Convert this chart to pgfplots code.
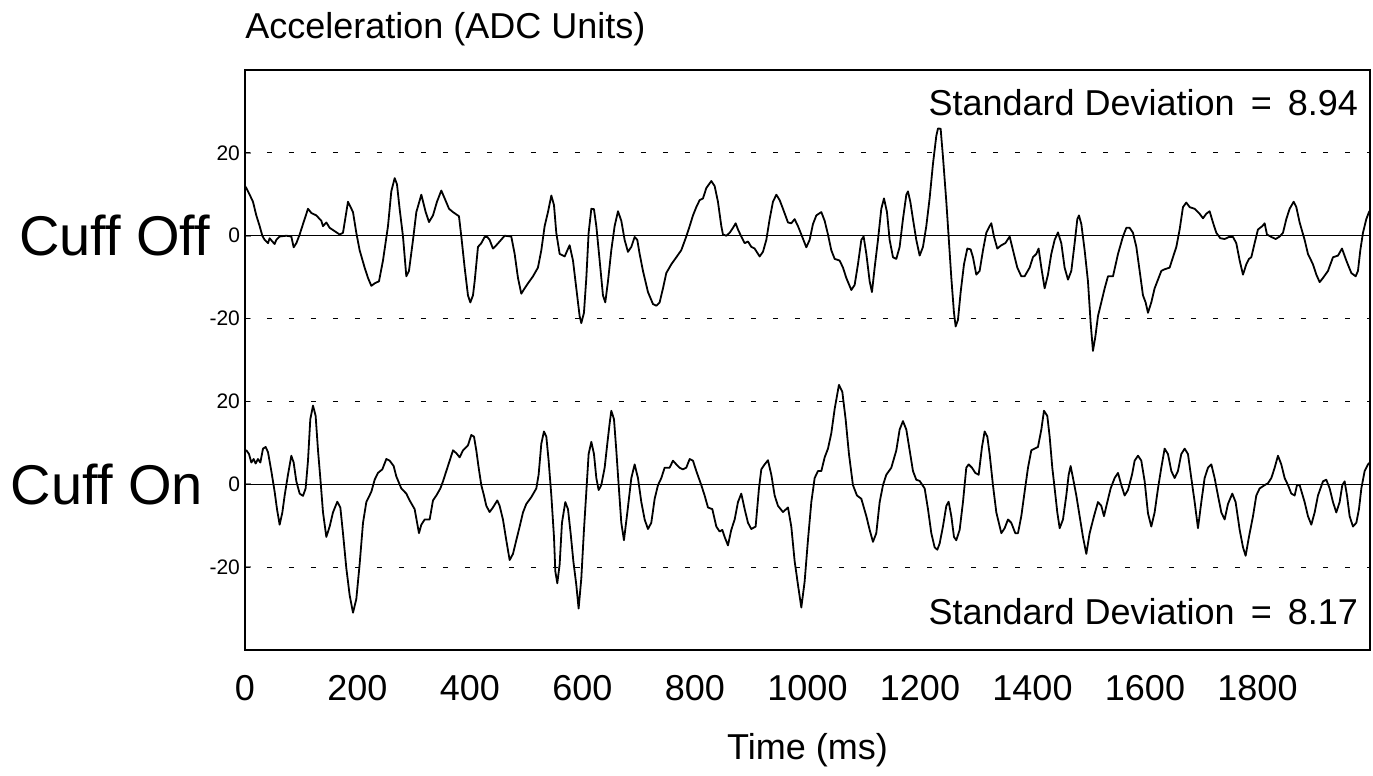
\documentclass[border=0pt]{standalone}
\usepackage{fontspec}
\setmainfont{Liberation Sans}
\usepackage{pgfplots}
\usepackage{pgfplotstable}
\pgfplotsset{compat=1.18}

\pgfplotstableread{
t v
0 12
2.4 11.5
8.3 9.9
14.2 8.2
20.1 4.9
26.1 2.3
30.8 0
34.9 -1.0
40.9 -1.8
43.8 -0.6
48.6 -1.4
52.7 -2.0
55.7 -1.0
61.6 -0.2
73.5 0
82.4 -0.2
86.5 -2.8
91.3 -1.8
97.2 0.3
103.1 2.8
112.0 6.5
117.9 5.5
126.8 4.9
135.7 3.6
138.7 2.3
144.6 3.2
150.5 1.9
159.4 1.1
168.3 0.3
174.2 0.7
183.1 8.2
192.0 5.7
197.9 0.7
203.8 -3.5
212.7 -7.7
218.7 -10.2
224.6 -12.1
230.5 -11.5
238.2 -11.0
245.3 -6.0
254.2 2.3
260.1 10.7
266.1 13.9
270.2 12.4
274.9 6.5
280.9 -0.2
286.8 -9.8
291.5 -8.5
298.7 -1.0
304.6 5.7
313.5 9.9
321.2 5.7
327.1 3.3
334.2 4.9
341.3 8.2
349.0 10.9
355.0 9.0
362.7 6.5
369.8 5.7
380.4 4.7
384.6 -0.2
390.5 -7.7
396.4 -14.4
400.6 -16.1
405.3 -14.4
408.3 -11.0
414.2 -2.7
420.1 -1.8
426.0 -0.3
430.8 -0.3
434.9 -1.0
440.8 -3.1
446.8 -2.3
452.7 -1.4
461.6 0
473.4 -0.2
479.4 -4.4
485.3 -10.2
491.2 -14.0
497.1 -12.7
503.1 -11.5
512.0 -9.8
520.8 -7.7
526.8 -3.5
532.7 2.3
538.6 5.7
544.6 9.7
549.3 7.4
553.4 0.7
559.4 -4.4
568.3 -5.0
577.1 -2.3
583.1 -6.0
589.0 -12.7
594.9 -19.4
597.9 -21.1
602.6 -18.6
606.8 -10.2
610.9 0.7
615.7 6.5
620.4 6.4
624.6 2.3
630.5 -6.0
636.4 -14.4
640.5 -16.1
645.3 -11.0
651.2 -3.5
657.1 2.3
663.1 5.9
669.0 3.6
674.9 -1.0
680.8 -3.9
686.8 -2.7
692.7 -0.3
697.4 -1.0
701.6 -4.4
707.5 -8.5
716.4 -13.6
725.3 -16.5
731.2 -16.9
737.1 -16.1
743.1 -12.7
749.0 -9.0
757.9 -6.9
766.8 -5.2
775.6 -3.5
784.5 -0.2
790.5 2.3
796.4 4.9
802.3 6.9
808.3 8.6
814.2 9.0
820.1 11.5
829.0 13.2
834.9 12.0
840.8 8.2
846.8 2.3
849.7 0.3
855.7 0
861.6 0.7
867.5 1.9
872.3 3.0
876.4 1.5
882.3 -0.2
888.3 -1.8
894.2 -1.4
900.1 -2.7
906.0 -3.1
914.9 -5.0
920.8 -3.9
926.8 -1.0
932.7 4.0
938.6 8.2
944.6 9.9
950.5 8.6
956.4 6.5
965.3 3.2
971.2 3.0
977.1 4.0
983.1 2.3
989.0 0.3
997.9 -2.8
1003.8 -1.0
1009.7 2.8
1015.7 4.9
1024.6 5.7
1030.5 3.6
1036.4 0.3
1042.3 -3.5
1048.3 -5.6
1057.1 -6.0
1063.1 -7.7
1069.0 -10.2
1077.9 -13.1
1083.8 -11.9
1089.7 -6.9
1095.7 -1.0
1099.8 -0.2
1104.6 -4.4
1110.5 -11.0
1114.6 -13.6
1119.4 -7.7
1125.3 -1.0
1131.2 6.5
1136.0 9.0
1141.3 5.7
1146.0 -1.0
1152.0 -5.2
1157.9 -5.6
1163.8 -2.7
1169.7 4.0
1175.7 9.9
1178.6 10.7
1182.8 8.2
1187.5 4.0
1193.4 -1.0
1199.4 -4.8
1205.3 -2.7
1211.2 2.3
1217.1 9.0
1223.1 17.4
1229.0 24.1
1232.0 25.9
1236.7 25.8
1240.8 19.1
1246.8 8.2
1250.9 -0.2
1255.7 -10.2
1260.4 -18.6
1263.4 -21.9
1267.5 -20.3
1272.3 -13.6
1278.2 -6.9
1284.1 -3.1
1290.0 -3.3
1294.2 -5.2
1300.1 -9.4
1306.0 -8.5
1312.0 -3.5
1317.9 0.7
1323.8 2.3
1326.8 3.0
1331.5 -0.2
1337.4 -3.1
1344.6 -2.3
1351.7 -1.8
1359.4 -0.2
1365.3 -3.5
1373.0 -7.7
1380.1 -9.8
1386.0 -9.8
1394.9 -7.7
1400.8 -5.2
1406.8 -4.4
1410.9 -3.1
1415.7 -7.7
1421.6 -12.7
1427.5 -9.4
1433.4 -4.4
1439.4 -1.0
1445.3 0.8
1451.2 -1.8
1457.1 -7.7
1463.1 -10.6
1469.0 -8.5
1474.9 -1.8
1479.7 4.0
1482.6 4.9
1486.8 2.8
1492.7 -3.5
1498.6 -11.0
1503.4 -21.1
1507.5 -27.8
1511.7 -24.4
1516.4 -19.4
1522.3 -16.1
1528.3 -12.7
1534.2 -9.8
1543.1 -9.8
1552.0 -4.4
1560.8 -0.2
1566.8 1.9
1572.7 1.9
1578.6 0.7
1584.6 -2.7
1590.5 -8.5
1596.4 -14.4
1601.1 -16.1
1605.3 -18.6
1611.2 -16.1
1617.1 -12.7
1623.1 -10.6
1629.0 -8.5
1634.9 -8.1
1643.8 -7.7
1649.7 -5.2
1655.7 -2.7
1661.6 1.5
1667.5 6.9
1673.4 8.0
1679.4 6.9
1688.3 6.5
1697.1 5.3
1703.1 4.2
1709.0 5.3
1714.9 5.9
1720.8 3.2
1726.8 0.7
1733.9 -0.6
1741.6 -0.8
1749.3 -0.3
1756.4 -0.3
1762.3 -1.8
1768.3 -6.0
1774.2 -9.4
1780.1 -6.9
1784.8 -5.6
1789.0 -5.2
1794.9 -1.8
1800.8 1.5
1808.5 2.3
1812.7 3.0
1816.8 0.3
1824.6 -0.3
1832.3 -0.8
1839.4 -0.2
1845.3 0.7
1851.2 4.0
1857.1 6.5
1864.3 8.2
1869.0 6.9
1874.9 3.2
1883.8 -1.0
1889.7 -4.4
1898.6 -6.9
1904.6 -9.4
1910.5 -11.2
1916.4 -10.2
1925.3 -8.5
1934.2 -5.2
1943.1 -4.8
1950.2 -3.1
1957.9 -6.0
1966.8 -9.0
1974.5 -9.8
1978.6 -8.5
1982.8 -3.5
1987.5 0.7
1993.4 4.0
1998.2 5.7
2000 6.1
}\cuffoff

\pgfplotstableread{
t v
0 8
2.4 8.2
7.1 7.3
11.3 5.25
15.4 6.1
18.9 5.0
23.1 6.1
27.3 5.25
32.0 8.6
36.7 9.0
40.9 7.75
46.8 3.2
52.7 -1.8
56.9 -6.0
61.6 -9.75
66.4 -6.8
70.5 -2.7
76.4 2.3
82.4 6.9
86.5 5.25
91.3 0.7
97.2 -2.25
103.1 -2.8
107.8 -1.0
112.0 5.7
116.1 15.7
120.9 19.0
125.6 16.5
129.8 8.2
133.9 1.5
138.7 -6.8
144.6 -12.7
150.5 -10.2
156.4 -6.8
164.1 -4.2
169.5 -5.6
174.2 -11.8
180.1 -20.2
186.1 -26.8
192.0 -31.0
197.9 -27.7
203.8 -19.3
209.8 -9.3
215.7 -4.3
224.6 -1.8
230.5 1.1
236.4 2.75
244.1 3.6
251.3 6.1
257.2 5.7
264.3 4.4
269.0 1.9
277.9 -1.0
286.8 -2.25
292.7 -3.9
301.6 -6.0
309.3 -11.8
313.5 -9.75
319.4 -8.5
328.3 -8.5
334.2 -3.9
340.2 -2.7
347.3 -1.0
352.0 0.7
357.9 3.2
363.9 5.7
369.8 8.2
375.7 7.5
381.6 6.5
387.6 8.2
396.4 9.4
402.3 11.9
407.1 11.5
411.2 8.2
415.4 4.0
420.1 -0.2
424.8 -2.7
429.0 -5.2
434.9 -6.7
440.8 -5.6
448.5 -3.9
452.7 -5.2
458.6 -8.5
464.5 -13.5
470.5 -18.3
476.4 -16.8
482.3 -13.5
488.3 -10.2
494.2 -6.8
500.1 -4.75
509.0 -3.1
517.9 -1.0
522.0 2.3
526.8 9.8
531.5 12.75
535.7 11.5
539.8 5.7
544.6 -2.7
549.3 -12.7
551.7 -21.0
555.2 -23.9
559.4 -19.3
563.5 -9.3
569.4 -4.3
574.2 -6.0
578.9 -11.8
583.7 -18.5
589.0 -24.3
593.1 -30.0
597.9 -22.7
602.6 -11.0
606.8 -1.8
610.9 7.3
615.7 10.25
620.4 7.3
624.6 1.5
628.7 -1.4
633.4 -0.2
639.4 4.0
644.1 9.8
648.3 14.75
651.2 17.75
656.0 15.7
660.1 8.2
664.3 -0.2
669.0 -9.3
673.7 -13.5
679.7 -6.8
686.8 1.5
692.7 4.8
698.6 1.5
704.6 -4.3
710.5 -8.5
716.4 -10.8
722.3 -9.3
728.3 -3.5
734.2 -0.2
740.1 1.5
746.0 4.0
754.9 4.0
760.8 5.7
766.8 4.8
772.7 4.0
778.6 3.6
784.5 4.0
790.5 6.1
796.4 5.7
802.3 3.2
811.2 -0.2
817.1 -2.7
823.1 -5.6
830.8 -6.0
837.9 -10.2
843.8 -11.4
848.5 -11.0
852.7 -12.7
858.6 -14.75
864.5 -11.0
870.5 -8.5
876.4 -4.3
882.3 -2.25
888.3 -6.0
894.2 -9.3
900.1 -10.8
907.8 -10.2
913.7 -1.0
917.9 3.6
923.8 4.8
929.7 5.8
935.7 2.3
941.6 -2.7
947.5 -5.2
956.4 -6.7
965.3 -5.6
971.2 -10.2
977.1 -18.5
983.1 -24.3
989.0 -29.75
994.9 -23.5
1000.8 -13.5
1006.8 -4.3
1012.7 1.5
1018.6 3.2
1024.6 3.2
1030.5 6.5
1036.4 8.6
1042.3 12.3
1048.3 18.2
1055.9 24.0
1061.9 22.3
1067.8 15.7
1073.7 7.3
1080.8 -0.2
1087.9 -2.7
1095.7 -3.5
1104.6 -7.7
1110.5 -11.0
1116.4 -13.9
1122.3 -11.8
1128.3 -4.3
1134.2 -0.2
1140.1 2.3
1149.0 4.0
1157.9 8.2
1163.8 13.2
1169.7 15.25
1175.7 13.2
1181.6 8.2
1187.5 3.2
1193.4 1.1
1199.4 0.8
1208.3 -1.0
1214.2 -6.0
1220.1 -11.8
1226.0 -15.2
1230.8 -15.8
1234.9 -14.3
1240.8 -10.2
1246.8 -5.2
1250.9 -4.2
1255.7 -7.7
1260.4 -12.7
1264.5 -13.5
1270.5 -11.0
1276.4 -4.3
1282.3 4.0
1286.5 4.8
1292.4 4.0
1298.3 2.75
1304.3 2.3
1310.2 9.0
1314.9 12.75
1319.7 11.5
1323.8 7.3
1329.7 -0.2
1335.7 -6.8
1344.6 -11.8
1350.5 -10.6
1356.4 -8.5
1362.3 -9.3
1369.4 -11.8
1374.2 -11.8
1380.1 -7.7
1386.0 -1.8
1392.0 4.0
1397.9 8.2
1403.8 8.6
1409.7 9.0
1415.7 13.2
1420.4 17.75
1426.3 16.5
1430.5 11.5
1435.2 4.0
1439.4 -1.0
1444.1 -6.8
1448.3 -10.6
1454.2 -8.5
1460.1 -2.7
1464.3 2.3
1467.8 4.4
1472.0 1.5
1477.9 -2.7
1483.8 -7.7
1489.7 -12.7
1495.7 -16.8
1501.6 -11.8
1509.3 -7.7
1516.4 -4.3
1522.3 -5.2
1527.1 -7.7
1533.0 -4.3
1538.9 -1.0
1546.0 1.5
1552.0 2.75
1557.9 -0.2
1563.8 -2.7
1569.7 -1.4
1576.9 2.3
1581.6 5.7
1587.5 6.9
1593.4 5.7
1599.4 0.7
1605.3 -7.0
1611.2 -10.2
1617.1 -6.8
1623.1 -1.0
1629.0 4.0
1634.9 8.6
1640.8 7.3
1646.8 3.2
1652.7 1.5
1658.6 3.2
1664.5 7.3
1670.5 8.6
1676.4 7.3
1682.3 1.5
1688.3 -4.3
1694.2 -10.6
1700.1 -4.3
1706.0 1.5
1712.0 4.0
1717.9 4.8
1723.8 1.5
1729.7 -2.7
1735.7 -6.8
1741.6 -8.5
1747.5 -4.75
1755.2 -2.25
1761.1 -4.3
1768.3 -11.0
1774.2 -15.2
1778.9 -17.25
1784.8 -12.7
1792.0 -7.7
1797.9 -2.7
1803.8 -1.0
1812.7 -0.2
1818.6 0.25
1824.6 1.5
1830.5 4.0
1836.4 6.9
1842.3 4.8
1848.3 1.5
1854.2 -0.2
1860.1 -2.25
1866.1 -2.7
1870.2 -0.2
1874.9 -0.2
1883.8 -4.3
1889.7 -7.7
1895.7 -9.75
1901.6 -6.8
1907.5 -2.7
1916.4 0.7
1922.3 1.1
1928.3 -1.0
1934.2 -4.3
1940.1 -6.8
1946.0 -4.3
1950.8 -0.2
1954.9 0.7
1959.1 -2.7
1963.8 -7.7
1969.7 -10.2
1975.7 -9.3
1980.4 -6.0
1984.6 -1.0
1990.5 3.2
1996.4 4.8
2000 5.25
}\cuffon

\begin{document}
\begin{tikzpicture}
\useasboundingbox (-122.5pt,-63pt) rectangle (564pt,325pt);
\begin{axis}[
  scale only axis,
  width=562.5pt, height=290pt,
  xmin=0, xmax=2000, ymin=-100, ymax=40,
  axis line style={line width=1pt},
  xtick={0,200,400,600,800,1000,1200,1400,1600,1800},
  xticklabels={0,200,400,600,800,1000,1200,1400,1600,1800},
  xtick style={draw=none},
  xticklabel style={font=\fontsize{18}{20}\selectfont, yshift=-9pt},
  ytick={-80,-60,-40,-20,0,20},
  yticklabels={-20,0,20,-20,0,20},
  ytick pos=left,
  tick align=inside,
  major tick length=3pt,
  ytick style={line width=0.8pt},
  yticklabel style={font=\fontsize{10.5}{12}\selectfont, xshift=1pt},
  xlabel={Time (ms)},
  xlabel style={font=\fontsize{18}{20}\selectfont, yshift=-9.5pt},
  clip=true,
]
\addplot[black, line width=0.5pt, dash pattern=on 2.5pt off 8.5pt] coordinates {(0,20) (2000,20)};
\addplot[black, line width=0.5pt, dash pattern=on 2.5pt off 8.5pt] coordinates {(0,-20) (2000,-20)};
\addplot[black, line width=0.5pt, dash pattern=on 2.5pt off 8.5pt] coordinates {(0,-40) (2000,-40)};
\addplot[black, line width=0.5pt, dash pattern=on 2.5pt off 8.5pt] coordinates {(0,-80) (2000,-80)};
\addplot[black, line width=0.7pt] coordinates {(0,0) (2000,0)};
\addplot[black, line width=0.7pt] coordinates {(0,-60) (2000,-60)};
\addplot[black, line width=0.9pt, line join=round] table[x=t, y=v] {\cuffoff};
\addplot[black, line width=0.9pt, line join=round] table[x=t, y expr=\thisrow{v}-60] {\cuffon};
\node[anchor=north east, font=\fontsize{18}{20}\selectfont] at (rel axis cs:1,1) [xshift=-2.5pt, yshift=-6pt] {Standard Deviation\,\ =\,\ 8.94};
\node[anchor=south east, font=\fontsize{18}{20}\selectfont] at (rel axis cs:1,0) [xshift=-2.5pt, yshift=9pt] {Standard Deviation\,\ =\,\ 8.17};
\end{axis}
\node[anchor=east, font=\fontsize{28}{30}\selectfont] at (-14pt,207.1pt) {Cuff Off};
\node[anchor=east, font=\fontsize{28}{30}\selectfont] at (-17.5pt,82.9pt) {Cuff On};
\node[anchor=south west, font=\fontsize{18}{20}\selectfont, inner sep=0pt] at (0pt,302pt) {Acceleration (ADC Units)};
\end{tikzpicture}
\end{document}
